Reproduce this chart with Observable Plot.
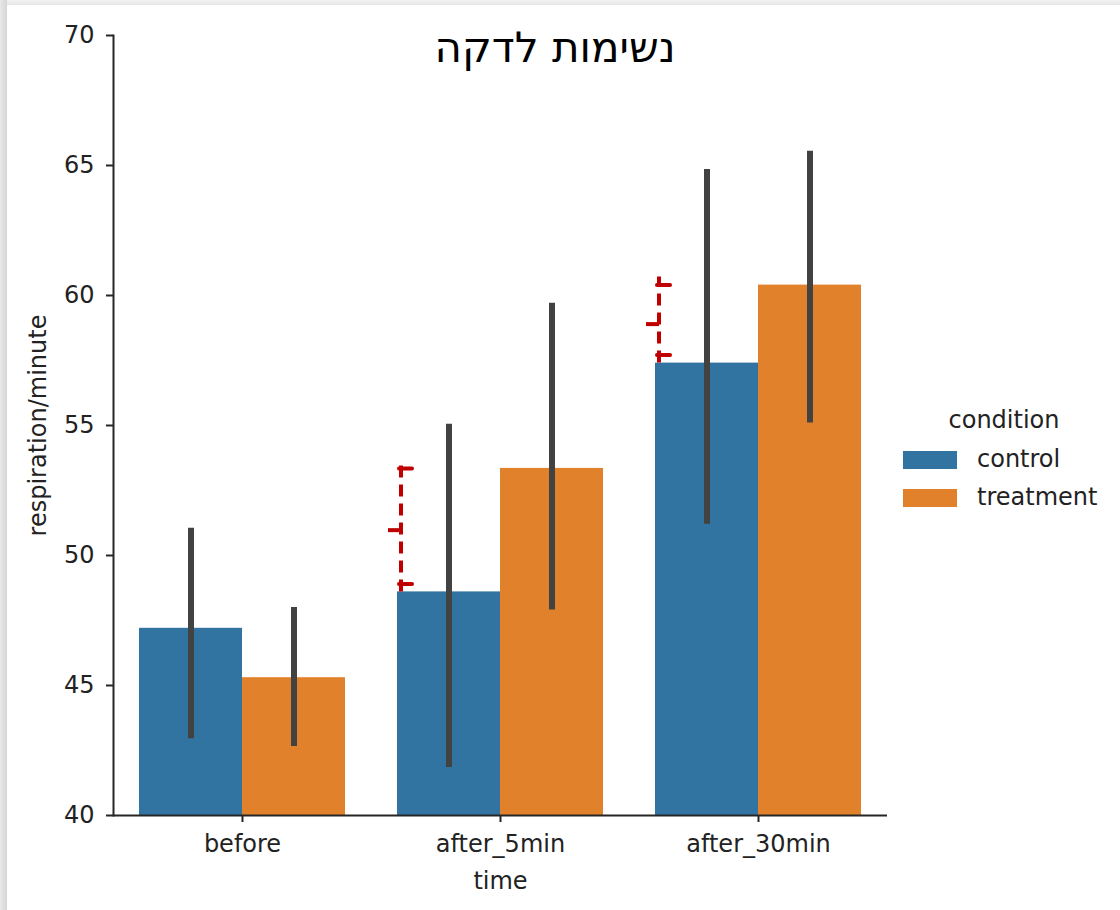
<!DOCTYPE html>
<html>
<head>
<meta charset="utf-8">
<script src="https://cdn.jsdelivr.net/npm/d3@7"></script>
<script src="https://cdn.jsdelivr.net/npm/@observablehq/plot@0.6"></script>
<style>
  html, body { margin: 0; padding: 0; background: #fff; }
  #wrap { position: relative; width: 1120px; height: 910px; overflow: hidden; background: #fff; font-family: "DejaVu Sans", sans-serif; color: #222; }
  #wrap svg { position: absolute; left: 0; top: 0; }
  #topstrip { position: absolute; left: 0; top: 0; width: 1120px; height: 5px; background: linear-gradient(#f2f2f2, #e6e6e6); }
  #leftstrip { position: absolute; left: 0; top: 0; width: 7px; height: 910px; background: linear-gradient(90deg, #e8e8e8, #d6d6d6); }
  #title { position: absolute; left: 0; width: 1110px; top: 22px; text-align: center; font-size: 42px; line-height: 52px; color: #000; direction: rtl; }
  #legend { position: absolute; left: 895px; top: 403px; width: 215px; font-size: 24px; }
  #legend .ltitle { text-align: center; width: 218px; line-height: 34px; margin-bottom: 4px; }
  #legend .item { position: relative; height: 38px; }
  #legend .sw { position: absolute; left: 8px; top: 10px; width: 54px; height: 18px; }
  #legend .lab { position: absolute; left: 82px; top: 1px; line-height: 34px; }
</style>
</head>
<body>
<div id="wrap">
  <div id="title">נשימות לדקה</div>
  <div id="legend"></div>
  <div id="topstrip"></div>
  <div id="leftstrip"></div>
</div>
<script>
// ---- data ----
const times = ["before", "after_5min", "after_30min"];
const conditions = ["control", "treatment"];
const controlMean = [47.2, 48.6, 57.4];
const controlLo = [42.95, 41.85, 51.2];
const controlHi = [51.05, 55.05, 64.85];
const treatmentMean = [45.3, 53.35, 60.4];
const treatmentLo = [42.65, 47.9, 55.1];
const treatmentHi = [48.0, 59.7, 65.55];
const yTicks = [40, 45, 50, 55, 60, 65, 70];
const bracketTimes = ["after_5min", "after_30min"];
const titleText = "נשימות לדקה";
const xLabel = "time";
const yLabel = "respiration/minute";
const legendTitle = "condition";
const palette = ["#3274a1", "#e1812c"];

// ---- build table ----
const rows = [];
times.forEach((t, i) => {
  rows.push({time: t, condition: "control", mean: controlMean[i], lo: controlLo[i], hi: controlHi[i]});
  rows.push({time: t, condition: "treatment", mean: treatmentMean[i], lo: treatmentLo[i], hi: treatmentHi[i]});
});
const brackets = bracketTimes.map(t => {
  const i = times.indexOf(t);
  return {time: t, condition: "control", lo: controlMean[i], hi: treatmentMean[i], mid: (controlMean[i] + treatmentMean[i]) / 2};
});

const red = "#c00000";
const axisColor = "#262626";

const plot = Plot.plot({
  width: 1120,
  height: 910,
  marginLeft: 113,
  marginRight: 233,
  marginTop: 35,
  marginBottom: 95,
  style: {fontFamily: "DejaVu Sans, sans-serif", fontSize: "24px", color: "#222", background: "transparent"},
  fx: {domain: times, padding: 0},
  x: {domain: conditions, paddingInner: 0, paddingOuter: 0.25, axis: null},
  y: {domain: [yTicks[0], yTicks[yTicks.length - 1]]},
  color: {domain: conditions, range: palette},
  marks: [
    Plot.barY(rows, {fx: "time", x: "condition", y: "mean", fill: "condition", clip: true}),
    Plot.ruleX(rows, {fx: "time", x: "condition", y1: "lo", y2: "hi", stroke: "#424242", strokeWidth: 6}),
    // bracket annotations
    Plot.ruleX(brackets, {fx: "time", x: "condition", y1: "lo", y2: "hi", dx: -48, insetBottom: 8, stroke: red, strokeWidth: 4, strokeDasharray: "12,7"}),
    Plot.tickY(brackets, {fx: "time", x: "condition", y: "hi", insetLeft: 2, insetRight: 88, stroke: red, strokeWidth: 4, strokeLinecap: "round"}),
    Plot.tickY(brackets, {fx: "time", x: "condition", y: "lo", dy: -8, insetLeft: 2, insetRight: 88, stroke: red, strokeWidth: 4, strokeLinecap: "round"}),
    Plot.tickY(brackets, {fx: "time", x: "condition", y: "mid", dx: -12, insetLeft: 3, insetRight: 87, stroke: red, strokeWidth: 4}),
    // axes
    Plot.ruleY([yTicks[0]], {stroke: axisColor, strokeWidth: 2}),
    Plot.frame({anchor: "left", facetAnchor: "left", stroke: axisColor, strokeWidth: 2}),
    Plot.axisY({ticks: yTicks, tickSize: 7, tickPadding: 12, stroke: axisColor, strokeWidth: 2, label: yLabel, labelAnchor: "center", labelArrow: "none", labelOffset: 85}),
    Plot.axisFx({anchor: "bottom", tickSize: 7, tickPadding: 12, stroke: axisColor, strokeWidth: 2, label: xLabel, labelAnchor: "center", labelArrow: "none", labelOffset: 73})
  ]
});
const wrap = document.getElementById("wrap");
wrap.insertBefore(plot, wrap.firstChild);

// legend from the plot's color scale
const colorScale = plot.scale("color");
const legend = document.getElementById("legend");
const lt = document.createElement("div");
lt.className = "ltitle";
lt.textContent = legendTitle;
legend.appendChild(lt);
colorScale.domain.forEach((d, i) => {
  const item = document.createElement("div");
  item.className = "item";
  const sw = document.createElement("div");
  sw.className = "sw";
  sw.style.background = colorScale.range[i];
  const lab = document.createElement("div");
  lab.className = "lab";
  lab.textContent = d;
  item.appendChild(sw);
  item.appendChild(lab);
  legend.appendChild(item);
});
document.getElementById("title").textContent = titleText;
</script>
</body>
</html>
